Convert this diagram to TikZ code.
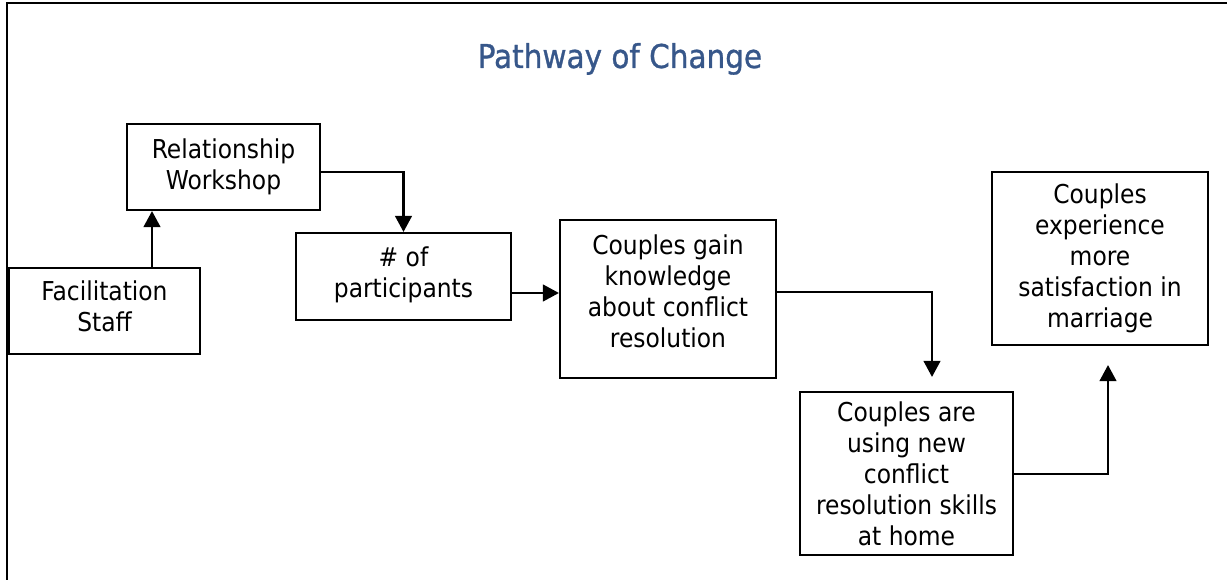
\documentclass[tikz,border=0pt]{standalone}
\usepackage{fontspec}
\setmainfont{DejaVu Sans Condensed}
\newfontfamily\headingfont{DejaVu Sans Condensed}[FakeBold=0.9]
\usetikzlibrary{arrows.meta,calc}

\definecolor{titleblue}{HTML}{37578A}

\begin{document}
\begin{tikzpicture}[x=0.75pt,y=-0.75pt,
  stage/.style n args={2}{draw, line width=1.6pt, inner sep=0pt,
    minimum width=#1*0.75pt, minimum height=#2*0.75pt, align=center,
    font=\fontsize{19.5}{23.25}\selectfont},
  link/.style={line width=1.6pt,
    -{Triangle[length=12pt,width=12.5pt]}}]

  \useasboundingbox (0,0) rectangle (1227,580);

  % outer frame (open to the right and bottom)
  \draw[line width=2.2pt] (7,585) -- (7,3) -- (1232,3);

  % heading
  \node[anchor=base, text=titleblue, font=\headingfont\fontsize{24.6}{29}\selectfont]
    (title) at (620,68) {Pathway of Change};

  % stages of the pathway
  \node[stage={191}{86}, text depth=7.5pt]  (fac)  at (104.5,311)   {Facilitation\\Staff};
  \node[stage={193}{86}]  (rel)  at (223.5,167)   {Relationship\\Workshop};
  \node[stage={215}{87}, text depth=7pt]  (num)  at (403.5,276.5) {\# of\\participants};
  \node[stage={216}{158}, text depth=12.5pt] (gain) at (668,299)     {Couples gain\\knowledge\\about conflict\\resolution};
  \node[stage={213}{163}] (use)  at (906.5,473.5) {Couples are\\using new\\conflict\\resolution skills\\at home};
  \node[stage={216}{173}] (exp)  at (1100,258.5)  {Couples\\experience\\more\\satisfaction in\\marriage};

  % connectors
  \draw[link] ($(fac.north)+(47.5,0)$) coordinate (c1) -- (c1 |- rel.south);
  \draw[link] ($(rel.east)+(0,5)$) -| (num.north);
  \draw[link] ($(num.east)+(0,16.5)$) coordinate (c3) -- (c3 -| gain.west);
  \draw[link] ($(gain.east)+(0,-7)$) -| ($(use.north)+(25.5,-14)$);
  \draw[link] ($(use.east)+(0,0.5)$) -| ($(exp.south)+(8,19)$);
\end{tikzpicture}
\end{document}
